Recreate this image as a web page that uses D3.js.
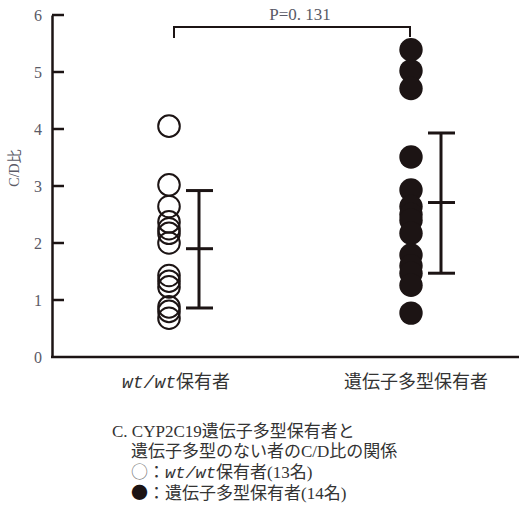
<!DOCTYPE html>
<html>
<head>
<meta charset="utf-8">
<script src="https://cdn.jsdelivr.net/npm/d3@7"></script>
<style>
  body { margin: 0; background: #fff; }
  svg { display: block; }
</style>
</head>
<body>
<div id="chart"></div>
<script>
// Data
const groups = ["wt", "poly"];
const groupLabels = ["wt/wt保有者", "遺伝子多型保有者"];
const wtValues = [4.05, 3.02, 2.64, 2.37, 2.25, 2.17, 2.0, 1.43, 1.33, 1.23, 0.88, 0.8, 0.68];
const polyValues = [5.39, 5.02, 4.71, 3.51, 2.93, 2.64, 2.5, 2.4, 2.17, 1.79, 1.6, 1.47, 1.26, 0.77];
const means = [1.9, 2.71];
const sdLow = [0.86, 1.47];
const sdHigh = [2.92, 3.93];
const yTicks = [0, 1, 2, 3, 4, 5, 6];
const pLabel = "P=0. 131";

const width = 521, height = 506;
const serif = "'Liberation Serif', 'DejaVu Serif', 'Noto Sans CJK JP', serif";
const mono = "'Liberation Mono', 'DejaVu Sans Mono', monospace";
const cjk = "'Noto Sans CJK JP', sans-serif";
const ink = "#1c1414";

const svg = d3.select("#chart")
    .append("svg")
    .attr("width", width)
    .attr("height", height);

const y = d3.scaleLinear().domain([0, 6]).range([357, 15]);
const x = d3.scalePoint().domain(groups).range([169, 411]);
const axisX = 52;

// Y axis, labels only; ticks drawn inward below
const yAxis = svg.append("g")
    .attr("transform", `translate(${axisX},0)`)
    .call(d3.axisLeft(y).tickValues(yTicks).tickFormat(d3.format("d")).tickSize(0).tickPadding(10));
yAxis.select(".domain").attr("stroke", ink).attr("stroke-width", 2.5);
yAxis.selectAll(".tick text")
    .attr("fill", "#5a5a66")
    .style("font-family", serif)
    .style("font-size", "16px");

svg.append("g")
    .selectAll("line")
    .data(yTicks.filter(d => d > 0))
    .join("line")
    .attr("x1", axisX).attr("x2", axisX + 12)
    .attr("y1", d => y(d)).attr("y2", d => y(d))
    .attr("stroke", ink).attr("stroke-width", 2.5);

// X axis baseline
svg.append("line")
    .attr("x1", axisX - 1).attr("x2", 519)
    .attr("y1", y(0)).attr("y2", y(0))
    .attr("stroke", ink).attr("stroke-width", 2.5);

// Y label
svg.append("text")
    .attr("transform", `translate(19,168) rotate(-90)`)
    .attr("text-anchor", "middle")
    .attr("fill", "#5a5a66")
    .style("font-family", serif)
    .style("font-size", "14px")
    .text("C/D比");

// Category labels
svg.selectAll(".cat")
    .data(groups)
    .join("text")
    .attr("class", "cat")
    .attr("x", (d, i) => x(d) + (i === 0 ? 7 : 5))
    .attr("y", 388)
    .attr("text-anchor", "middle")
    .attr("fill", "#333")
    .style("font-family", cjk)
    .style("font-size", "18px")
    .each(function(d, i) {
        const t = d3.select(this);
        if (i === 0) {
            t.append("tspan").style("font-family", mono).style("font-style", "italic").text("wt/wt");
            t.append("tspan").text("保有者");
        } else {
            t.text(groupLabels[i]);
        }
    });

// Open circles
svg.append("g")
    .selectAll("circle")
    .data(wtValues)
    .join("circle")
    .attr("cx", x("wt"))
    .attr("cy", d => y(d))
    .attr("r", 10.8)
    .attr("fill", "none")
    .attr("stroke", ink)
    .attr("stroke-width", 2);

// Filled circles
svg.append("g")
    .selectAll("circle")
    .data(polyValues)
    .join("circle")
    .attr("cx", x("poly"))
    .attr("cy", d => y(d))
    .attr("r", 11.7)
    .attr("fill", ink);

// Mean ± SD bars
const bars = svg.append("g")
    .selectAll("g")
    .data(groups)
    .join("g")
    .attr("transform", d => `translate(${x(d) + 30},0)`)
    .attr("stroke", ink)
    .attr("stroke-width", 3);
bars.append("line")
    .attr("y1", (d, i) => y(sdLow[i]))
    .attr("y2", (d, i) => y(sdHigh[i]));
[sdLow, means, sdHigh].forEach(arr => {
    bars.append("line")
        .attr("x1", -13).attr("x2", 14)
        .attr("y1", (d, i) => y(arr[i]))
        .attr("y2", (d, i) => y(arr[i]));
});

// Significance bracket
const by = 27;
svg.append("path")
    .attr("d", `M${x("wt") + 5},${by + 11}V${by}H${x("poly") - 1}V${by + 10}`)
    .attr("fill", "none")
    .attr("stroke", ink)
    .attr("stroke-width", 2);
svg.append("text")
    .attr("x", 300)
    .attr("y", 20)
    .attr("text-anchor", "middle")
    .attr("fill", "#5a5a66")
    .style("font-family", serif)
    .style("font-size", "17px")
    .text(pLabel);

// Caption
const cap = svg.append("g")
    .attr("fill", "#333")
    .style("font-family", serif)
    .style("font-size", "17px");

cap.append("text").attr("x", 112).attr("y", 437).text("C. CYP2C19遺伝子多型保有者と");
cap.append("text").attr("x", 131).attr("y", 457).text("遺伝子多型のない者のC/D比の関係");

const l3 = cap.append("text").attr("x", 131).attr("y", 478);
l3.append("tspan").style("font-family", cjk).attr("fill", "#777").text("○");
l3.append("tspan").style("font-family", cjk).text("：");
l3.append("tspan").style("font-family", mono).style("font-style", "italic").text("wt/wt");
l3.append("tspan").text("保有者(13名)");

const l4 = cap.append("text").attr("x", 131).attr("y", 499);
l4.append("tspan").style("font-family", cjk).attr("fill", ink).text("●");
l4.append("tspan").style("font-family", cjk).text("：");
l4.append("tspan").text("遺伝子多型保有者(14名)");
</script>
</body>
</html>
